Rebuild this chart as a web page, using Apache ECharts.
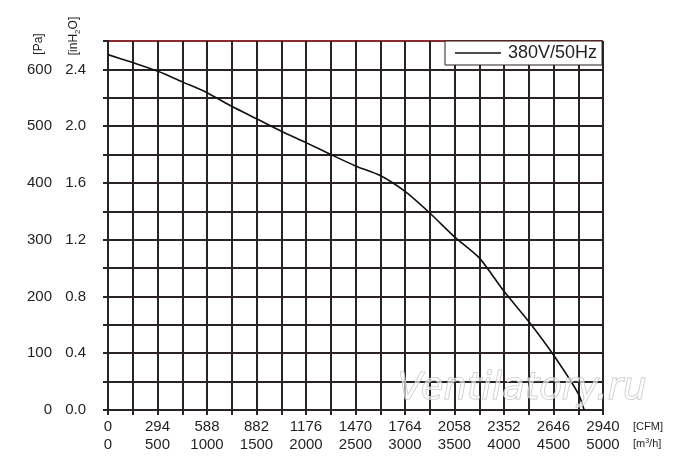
<!DOCTYPE html>
<html>
<head>
<meta charset="utf-8">
<script src="https://cdn.jsdelivr.net/npm/echarts@6/dist/echarts.min.js"></script>
<style>html,body{margin:0;padding:0;background:#fff;}#c{width:700px;height:476px;}</style>
</head>
<body>
<div id="c"></div>
<script>
// Curve: airflow (m³/h) vs static pressure (Pa)
const flowM3h = [0, 250, 500, 750, 1000, 1250, 1500, 1750, 2000, 2250, 2500, 2750, 3000, 3250, 3500, 3750, 4000, 4250, 4500, 4750, 4810];
const pressurePa = [626, 612, 597, 578, 559, 535, 513, 491, 471, 450, 430, 413, 385, 347, 305, 268, 209, 156, 97, 29, 0];
const seriesName = '380V/50Hz';

// Tick labels
const m3hTicks = [0, 500, 1000, 1500, 2000, 2500, 3000, 3500, 4000, 4500, 5000];
const cfmLabels = ['0', '294', '588', '882', '1176', '1470', '1764', '2058', '2352', '2646', '2940'];
const paTicks = [0, 100, 200, 300, 400, 500, 600];
const inH2OLabels = ['0.0', '0.4', '0.8', '1.2', '1.6', '2.0', '2.4'];

const FONT = 'Liberation Sans, Arial, sans-serif';
const GRID_C = '#2a2324';
const TXT = '#231f20';

const chart = echarts.init(document.getElementById('c'), null, {renderer: 'canvas'});
const splitColors = [];
for (let i = 0; i < 13; i++) splitColors.push(GRID_C);
splitColors.push('#8a2a2e');

chart.setOption({
  animation: false,
  backgroundColor: '#fff',
  grid: {left: 108, right: 97, top: 41, bottom: 66, containLabel: false},
  legend: {
    data: [{name: seriesName, icon: 'rect', itemStyle: {color: '#111'}}],
    left: 445, top: 41,
    orient: 'horizontal',
    backgroundColor: '#fff',
    borderColor: '#231f20', borderWidth: 1,
    padding: [3, 5, 3, 10],
    itemWidth: 46, itemHeight: 1.5,
    itemGap: 0,
    textStyle: {fontFamily: FONT, fontSize: 18, color: TXT, padding: [0, 0, 0, 2], lineHeight: 18},
    z: 10
  },
  xAxis: {
    type: 'value', min: 0, max: 5000, interval: 250,
    axisLine: {show: true, onZero: false, lineStyle: {color: GRID_C, width: 2}},
    axisTick: {show: true, length: 5, lineStyle: {color: GRID_C, width: 2}},
    splitLine: {show: true, lineStyle: {color: GRID_C, width: 2}},
    axisLabel: {
      margin: 8,
      showMinLabel: true, showMaxLabel: true,
      hideOverlap: false,
      formatter: function (v) {
        const i = m3hTicks.indexOf(v);
        if (i < 0) return '';
        return '{c|' + cfmLabels[i] + '}\n{m|' + m3hTicks[i] + '}';
      },
      rich: {
        c: {fontFamily: FONT, fontSize: 15, color: TXT, lineHeight: 18, align: 'center'},
        m: {fontFamily: FONT, fontSize: 15, color: TXT, lineHeight: 18, align: 'center'}
      }
    }
  },
  yAxis: {
    type: 'value', min: 0, max: 650, interval: 50,
    axisLine: {show: true, onZero: false, lineStyle: {color: GRID_C, width: 2}},
    axisTick: {show: true, length: 5, lineStyle: {color: GRID_C, width: 2}},
    splitLine: {show: true, lineStyle: {color: splitColors, width: 2}},
    axisLabel: {
      margin: 22,
      showMinLabel: true, showMaxLabel: true,
      formatter: function (v) {
        const i = paTicks.indexOf(v);
        if (i < 0) return '';
        return '{p|' + paTicks[i] + '}{i|' + inH2OLabels[i] + '}';
      },
      rich: {
        p: {fontFamily: FONT, fontSize: 15, color: TXT, width: 30, align: 'right'},
        i: {fontFamily: FONT, fontSize: 15, color: TXT, width: 34, align: 'right'}
      }
    }
  },
  series: [{
    name: seriesName,
    type: 'line',
    data: flowM3h.map((x, k) => [x, pressurePa[k]]),
    showSymbol: false,
    symbol: 'none',
    smooth: 0.25,
    lineStyle: {color: '#111', width: 1.6},
    itemStyle: {color: '#111'},
    z: 5
  }],
  graphic: [
    {type: 'text', x: 39, y: 44, rotation: Math.PI / 2,
      style: {text: '[Pa]', fontFamily: FONT, fontSize: 12, fill: TXT, align: 'center', verticalAlign: 'middle'}},
    {type: 'text', x: 74, y: 36, rotation: Math.PI / 2,
      style: {text: '[inH{s|2}O]', fontFamily: FONT, fontSize: 12, fill: TXT, align: 'center', verticalAlign: 'middle',
        rich: {s: {fontSize: 8, fill: TXT, fontFamily: FONT, padding: [8, 0, 0, 0]}}}},
    {type: 'text', x: 633, y: 427,
      style: {text: '[CFM]', fontFamily: FONT, fontSize: 11, fill: TXT, align: 'left', verticalAlign: 'middle'}},
    {type: 'text', x: 633, y: 444,
      style: {text: '[m{s|3}/h]', fontFamily: FONT, fontSize: 11, fill: TXT, align: 'left', verticalAlign: 'middle',
        rich: {s: {fontSize: 7, fill: TXT, fontFamily: FONT, padding: [0, 0, 6, 0]}}}},
    {type: 'text', x: 522, y: 389, z: 100,
      style: {text: 'Ventilatory.ru', fontFamily: 'DejaVu Sans, sans-serif', fontStyle: 'italic', fontSize: 37,
        fill: 'rgba(255,255,255,0.6)', stroke: 'rgba(185,185,185,0.9)', lineWidth: 1,
        align: 'center', verticalAlign: 'middle'}}
  ]
});
</script>
</body>
</html>
